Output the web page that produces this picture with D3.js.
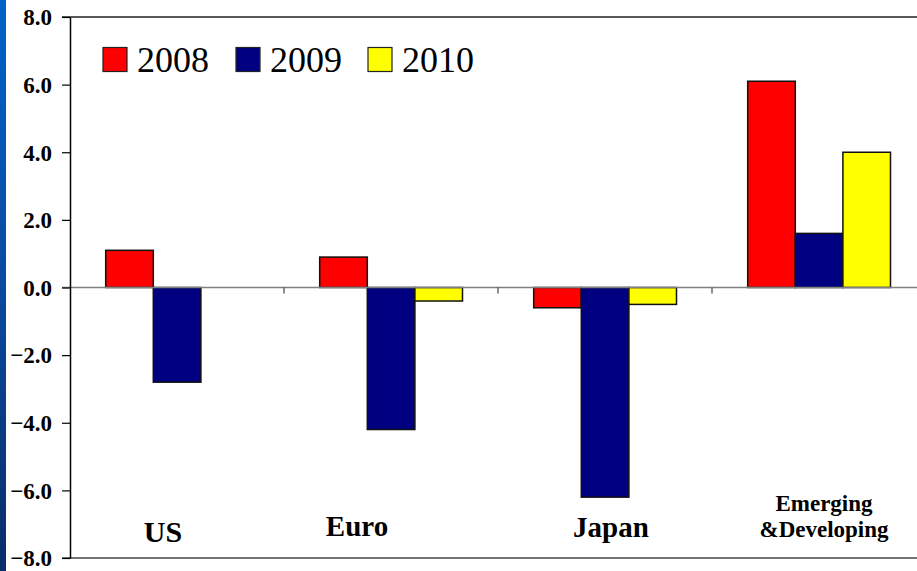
<!DOCTYPE html>
<html><head><meta charset="utf-8">
<script src="https://cdn.jsdelivr.net/npm/d3@7"></script>
<style>html,body{margin:0;padding:0;background:#fff;overflow:hidden}
svg text{font-family:"Liberation Serif","Times New Roman",serif}</style>
</head><body>
<svg id="c" width="917" height="571"></svg>
<script>
const categories = ["US", "Euro", "Japan", "Emerging &Developing"];
const seriesNames = ["2008", "2009", "2010"];
const values2008 = [1.1, 0.9, -0.6, 6.1];
const values2009 = [-2.8, -4.2, -6.2, 1.6];
const values2010 = [null, -0.4, -0.5, 4.0];
const yTicks = [-8, -6, -4, -2, 0, 2, 4, 6, 8];
const colors = ["#FF0000", "#000080", "#FFFF00"];

(function(){
const series = [values2008, values2009, values2010];
const svg = d3.select("#c");
const W = 917, H = 571;
const pLeft = 70, pRight = 926, pTop = 17, pBottom = 558;
const serif = "'Liberation Serif', 'Times New Roman', serif";

// blue left stripe
const defs = svg.append("defs");
const g0 = defs.append("linearGradient").attr("id","stripe").attr("x1",0).attr("y1",0).attr("x2",0).attr("y2",1);
g0.append("stop").attr("offset","0%").attr("stop-color","#0064c8");
g0.append("stop").attr("offset","50%").attr("stop-color","#0a4aa0");
g0.append("stop").attr("offset","100%").attr("stop-color","#0a2c68");
svg.append("rect").attr("x",0).attr("y",0).attr("width",6).attr("height",H).attr("fill","url(#stripe)");

const y = d3.scaleLinear().domain([-8, 8]).range([pBottom, pTop]);
const x0 = d3.scaleBand().domain(categories).range([pLeft, pRight]).padding(0);
const x1 = d3.scaleBand().domain(seriesNames).range([35.7, 178.5]).padding(0);

// top border
svg.append("line").attr("x1",62).attr("x2",W).attr("y1",y(8)).attr("y2",y(8))
  .attr("stroke","#222").attr("stroke-width",1.5);
// bottom line
svg.append("line").attr("x1",62).attr("x2",W).attr("y1",y(-8)).attr("y2",y(-8))
  .attr("stroke","#444").attr("stroke-width",1.5);

// bars
categories.forEach((c, i) => {
  series.forEach((s, j) => {
    const v = s[i];
    if (v === null || v === undefined) return;
    svg.append("rect")
      .attr("x", x0(c) + x1(seriesNames[j]))
      .attr("width", x1.bandwidth())
      .attr("y", y(Math.max(0, v)))
      .attr("height", Math.abs(y(v) - y(0)))
      .attr("fill", colors[j])
      .attr("stroke", "#111")
      .attr("stroke-width", 1.5);
  });
});

// zero line
svg.append("line").attr("x1",62).attr("x2",W).attr("y1",y(0)).attr("y2",y(0))
  .attr("stroke","#808080").attr("stroke-width",1.5);
// category ticks on zero line
categories.slice(1).forEach(c => {
  svg.append("line").attr("x1",x0(c)).attr("x2",x0(c)).attr("y1",y(0)).attr("y2",y(0)+6)
    .attr("stroke","#444").attr("stroke-width",1.2);
});

// y axis
const yAxis = d3.axisLeft(y).tickValues(yTicks).tickFormat(d3.format(".1f")).tickSize(8).tickSizeOuter(0).tickPadding(10);
const ga = svg.append("g").attr("transform",`translate(${pLeft},0)`).call(yAxis);
ga.attr("font-family", serif);
ga.select(".domain").attr("stroke","#000").attr("stroke-width",1.5);
ga.selectAll(".tick line").attr("stroke","#000").attr("stroke-width",1.2);
ga.selectAll(".tick text").style("font-family", serif)
  .style("font-weight","bold").style("font-size","23px").attr("fill","#000").attr("dy","0.34em");

// category labels
const labelDx = [-14, -34, 6, 5];
const labelY = [[542], [536], [537], [511, 537]];
const labelSize = [30, 29, 29, 23];
const labelLines = [["US"], ["Euro"], ["Japan"], ["Emerging", "&Developing"]];
categories.forEach((c, i) => {
  const cx = x0(c) + x0.bandwidth()/2 + labelDx[i];
  labelLines[i].forEach((t, k) => {
    svg.append("text").attr("x", cx).attr("y", labelY[i][k]).attr("text-anchor","middle")
      .style("font-family", serif).style("font-weight","bold")
      .style("font-size", labelSize[i] + "px").attr("fill","#000").text(t);
  });
});

// legend
const legX = [103, 236, 368];
seriesNames.forEach((n, j) => {
  svg.append("rect").attr("x", legX[j]).attr("y", 47.5).attr("width", 24).attr("height", 24)
    .attr("fill", colors[j]).attr("stroke","#222").attr("stroke-width",1.2);
  svg.append("text").attr("x", legX[j] + 34).attr("y", 71.5)
    .style("font-family", serif)
    .style("font-size","36px").attr("fill","#000").text(n);
});
})();
</script>
</body></html>
